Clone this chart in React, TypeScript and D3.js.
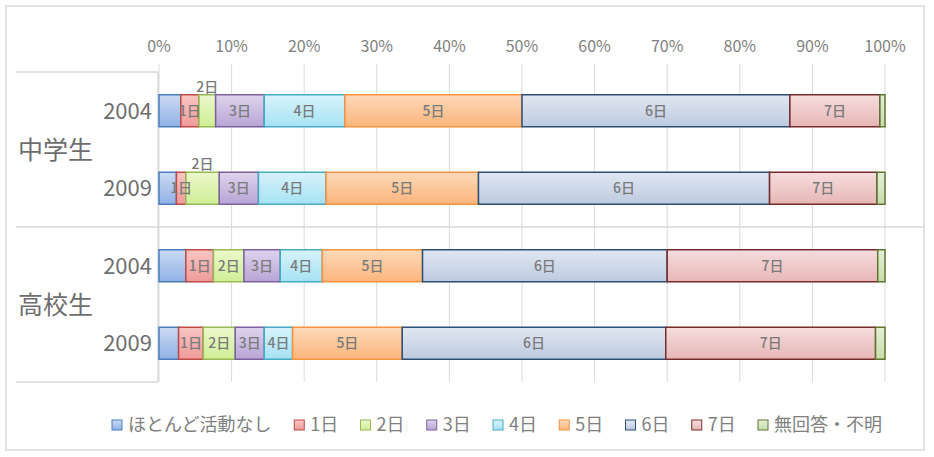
import React, { useMemo } from "react";
import * as d3 from "d3";

// ---- data ----
const groupNames = ["中学生", "高校生"];
const rowGroups = ["中学生", "中学生", "高校生", "高校生"];
const rowYears = ["2004", "2009", "2004", "2009"];
const seriesNames = ["ほとんど活動なし", "1日", "2日", "3日", "4日", "5日", "6日", "7日", "無回答・不明"];
const seriesNone = [3.0, 2.4, 3.7, 2.7];
const series1 = [2.5, 1.3, 3.8, 3.4];
const series2 = [2.3, 4.6, 4.2, 4.4];
const series3 = [6.7, 5.4, 5.0, 4.0];
const series4 = [11.1, 9.3, 5.8, 3.9];
const series5 = [24.4, 21.0, 13.8, 15.1];
const series6 = [36.9, 40.1, 33.7, 36.3];
const series7 = [12.4, 14.8, 29.0, 28.9];
const seriesNA = [0.7, 1.1, 1.0, 1.3];
const allSeries = [seriesNone, series1, series2, series3, series4, series5, series6, series7, seriesNA];
const showLabel = [false, true, true, true, true, true, true, true, false];
const labelAboveFor2 = [true, true, false, false];
const tickValues = [0, 10, 20, 30, 40, 50, 60, 70, 80, 90, 100];

// ---- styles ----
const fillTop = ["#ccdbf3", "#f8c6c4", "#ecf8cc", "#ded4ed", "#d8f3fb", "#fdd9ba", "#e0e7f2", "#f6dddd", "#e5f0d8"];
const fillBottom = ["#90b1e6", "#ef9b99", "#cfee96", "#b8a4d5", "#a5e2f3", "#fbb57c", "#bdcadf", "#e7b6b6", "#c8dcac"];
const strokes = ["#4a7ebb", "#be4b48", "#98b954", "#7d60a0", "#46aac5", "#f69240", "#2c4d75", "#772c2a", "#5f7530"];
const FONT = "'Noto Sans CJK JP', 'Noto Sans', sans-serif";

const W = 934;
const H = 457;

export default function App() {
  const x = d3.scaleLinear().domain([0, 100]).range([159, 885]);
  const y = d3
    .scaleBand<number>()
    .domain(d3.range(rowYears.length))
    .range([72, 382])
    .paddingInner(0.587)
    .paddingOuter(0.2935);

  const rows = rowYears.map((yr, i) => {
    const o: Record<string, number> = { idx: i };
    seriesNames.forEach((s, k) => (o[s] = allSeries[k][i]));
    return o;
  });
  const stacked = d3.stack<Record<string, number>>().keys(seriesNames)(rows);

  const legendLayout = useMemo(() => {
    const canvas = document.createElement("canvas");
    const ctx = canvas.getContext("2d")!;
    ctx.font = `18px ${FONT}`;
    const widths = seriesNames.map((s) => ctx.measureText(s).width);
    const start = 112;
    const end = 882;
    const content = d3.sum(widths) + seriesNames.length * 16;
    const gap = (end - start - content) / (seriesNames.length - 1);
    let cx = start;
    return widths.map((w) => {
      const item = { x: cx, w };
      cx += 16 + w + gap;
      return item;
    });
  }, []);

  const groupCenters = groupNames.map((g) => {
    const idxs = rowGroups.map((rg, i) => (rg === g ? i : -1)).filter((i) => i >= 0);
    const ys = idxs.map((i) => (y(i) as number) + y.bandwidth() / 2);
    return (d3.min(ys)! + d3.max(ys)!) / 2;
  });
  const groupBoundary = ((y(1) as number) + y.bandwidth() + (y(2) as number)) / 2;

  return (
    <svg
      width={W}
      height={H}
      style={{ position: "absolute", left: 0, top: 0, display: "block", background: "#fff" }}
      fontFamily={FONT}
    >
      <defs>
        {seriesNames.map((s, k) => (
          <linearGradient key={k} id={`g${k}`} x1="0" y1="0" x2="0" y2="1">
            <stop offset="0%" stopColor={fillTop[k]} />
            <stop offset="100%" stopColor={fillBottom[k]} />
          </linearGradient>
        ))}
      </defs>
      <rect x={6} y={6} width={918} height={444} fill="#fff" stroke="#d9d9d9" strokeWidth={1.5} />

      {/* gridlines */}
      {tickValues.map((t) => (
        <line key={t} x1={x(t)} x2={x(t)} y1={64} y2={382} stroke="#d9d9d9" strokeWidth={1} />
      ))}
      {/* tick labels */}
      {tickValues.map((t) => (
        <text key={t} x={x(t)} y={52} textAnchor="middle" fontSize={16} fill="#7f7f7f">
          {t}%
        </text>
      ))}

      {/* category axis box */}
      <line x1={16} x2={158} y1={72} y2={72} stroke="#d9d9d9" strokeWidth={1.5} />
      <line x1={16} x2={924} y1={groupBoundary} y2={groupBoundary} stroke="#d9d9d9" strokeWidth={1.5} />
      <line x1={16} x2={158} y1={382} y2={382} stroke="#d9d9d9" strokeWidth={1.5} />
      <line x1={158} x2={158} y1={72} y2={382} stroke="#d9d9d9" strokeWidth={1.5} />

      {rowYears.map((yr, i) => (
        <text
          key={i}
          x={152}
          y={(y(i) as number) + y.bandwidth() / 2}
          dy="0.36em"
          textAnchor="end"
          fontSize={22}
          fill="#6e6e6e"
        >
          {yr}
        </text>
      ))}
      {groupNames.map((g, i) => (
        <text key={g} x={18} y={groupCenters[i]} dy="0.38em" fontSize={25} fill="#6e6e6e">
          {g}
        </text>
      ))}

      {/* bars */}
      {stacked.map((layer, k) =>
        layer.map((d, i) => (
          <rect
            key={`${k}-${i}`}
            x={x(d[0])}
            y={y(i) as number}
            width={Math.max(0, x(d[1]) - x(d[0]))}
            height={y.bandwidth()}
            fill={`url(#g${k})`}
            stroke={strokes[k]}
            strokeWidth={1.5}
          />
        ))
      )}
      {/* bar labels */}
      {stacked.map((layer, k) =>
        showLabel[k]
          ? layer.map((d, i) => {
              const cx = (x(d[0]) + x(d[1])) / 2;
              const above = k === 2 && labelAboveFor2[i];
              const cy = above ? (y(i) as number) - 8 : (y(i) as number) + y.bandwidth() / 2;
              return (
                <text
                  key={`l${k}-${i}`}
                  x={cx}
                  y={cy}
                  dy="0.36em"
                  textAnchor="middle"
                  fontSize={14}
                  fontWeight={500}
                  fill="#7a7a7a"
                >
                  {seriesNames[k]}
                </text>
              );
            })
          : null
      )}

      {/* legend */}
      {seriesNames.map((s, k) => (
        <g key={s} transform={`translate(${legendLayout[k].x},420)`}>
          <rect x={0} y={0} width={10} height={10} fill={`url(#g${k})`} stroke={strokes[k]} strokeWidth={1} />
          <text x={16} y={5} dy="0.36em" fontSize={18} fill="#808080">
            {s}
          </text>
        </g>
      ))}
    </svg>
  );
}
